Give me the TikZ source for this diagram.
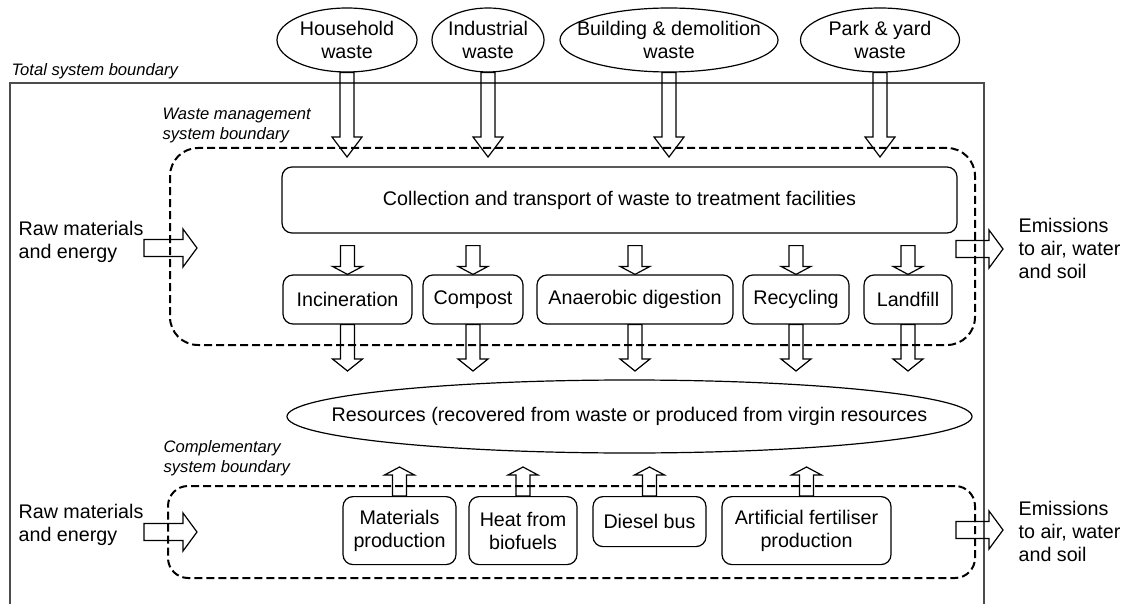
\documentclass[tikz,border=0pt]{standalone}
\usepackage{fontspec}
\setmainfont{Liberation Sans}
\usetikzlibrary{shapes.geometric,calc}

% hollow block arrows: from, to, head length
\newcommand{\fatdown}[3]{\draw[fat] let \p1=(#1), \p2=(#2) in
  (\x1-3.5pt,\y1) -- (\x1-3.5pt,\y2+#3) -- (\x1-7.5pt,\y2+#3) -- (\x1,\y2)
  -- (\x1+7.5pt,\y2+#3) -- (\x1+3.5pt,\y2+#3) -- (\x1+3.5pt,\y1) -- cycle;}
\newcommand{\fatup}[3]{\draw[fat] let \p1=(#1), \p2=(#2) in
  (\x1-3.5pt,\y1) -- (\x1-3.5pt,\y2-#3) -- (\x1-7.5pt,\y2-#3) -- (\x1,\y2)
  -- (\x1+7.5pt,\y2-#3) -- (\x1+3.5pt,\y2-#3) -- (\x1+3.5pt,\y1) -- cycle;}
\newcommand{\fatright}[3]{\draw[fat] let \p1=(#1), \p2=(#2) in
  (\x1,\y1-4.25pt) -- (\x2-#3,\y1-4.25pt) -- (\x2-#3,\y1-9.5pt) -- (\x2,\y1)
  -- (\x2-#3,\y1+9.5pt) -- (\x2-#3,\y1+4.25pt) -- (\x1,\y1+4.25pt) -- cycle;}

\tikzset{
  txt/.style={inner sep=0pt, align=left, font=\fontsize{9.85}{11.5}\selectfont},
  lbl/.style={inner sep=0pt, align=left, font=\fontsize{8.3}{10}\selectfont\itshape},
  src/.style={draw, ellipse, inner xsep=-40pt, inner ysep=-6pt, align=center,
    font=\fontsize{9.85}{11.5}\selectfont, minimum height=32pt},
  proc/.style={draw, rounded corners=5pt, inner sep=0pt, align=center,
    font=\fontsize{9.85}{11.5}\selectfont},
  bnd/.style={draw, dash pattern=on 4pt off 2pt, line width=1pt, inner sep=0pt},
  fat/.style={line join=miter},
}

\begin{document}
\begin{tikzpicture}[x=0.5pt, y=-0.5pt, line width=0.6pt]
  \useasboundingbox (0,0) rectangle (1123,604);

  % total system boundary
  \draw[black!70] (10,604) |- (984,83) -- (984,604);
  \node[lbl, anchor=base west] (tlbl) at (11,76) {Total system boundary};

  % waste sources
  \node[src, minimum width=70pt] (hh) at (347,40) {Household\\waste};
  \node[src, minimum width=56pt] (ind) at (488,40) {Industrial\\waste};
  \node[src, minimum width=109pt] (bd) at (669,40) {Building \& demolition\\waste};
  \node[src, minimum width=79.5pt] (pk) at (880,40) {Park \& yard\\waste};

  % waste management system
  \node[bnd, rounded corners=14pt, minimum width=402.5pt, minimum height=98.5pt] (wm) at (572.5,246.5) {};
  \node[lbl, anchor=south west] (wmlbl) at (162,144) {Waste management\\system boundary};
  \node[proc, minimum width=337.5pt, minimum height=33pt] (coll) at (619.5,200)
    {Collection and transport of waste to treatment facilities};

  \node[proc, minimum width=64.5pt, minimum height=24.5pt] (inc) at (347.5,299.5) {Incineration};
  \node[proc, minimum width=50pt, minimum height=24.5pt] (comp) at (473,299.5) {Compost};
  \node[proc, minimum width=98pt, minimum height=24.5pt] (ad) at (635,299.5) {Anaerobic digestion};
  \node[proc, minimum width=53pt, minimum height=24.5pt] (rec) at (796,299.5) {Recycling};
  \node[proc, minimum width=44pt, minimum height=24.5pt] (lf) at (908,299.5) {Landfill};

  % resources
  \node[src, minimum width=342.5pt, minimum height=36.5pt] (res) at (629.5,416.5)
    {Resources (recovered from waste or produced from virgin resources};

  % complementary system
  \node[bnd, rounded corners=10pt, minimum width=403.5pt, minimum height=46pt] (cs) at (571.5,532) {};
  \node[lbl, anchor=south west] (cslbl) at (163,477) {Complementary\\system boundary};
  \node[proc, anchor=north, minimum width=56.5pt, minimum height=34pt] (mat) at (399.5,496) {Materials\\production};
  \node[proc, anchor=north, minimum width=54pt, minimum height=34pt] (heat) at (523,496) {Heat from\\biofuels};
  \node[proc, anchor=north, minimum width=56.5pt, minimum height=25pt] (bus) at (649.5,496) {Diesel bus};
  \node[proc, anchor=north, minimum width=84.5pt, minimum height=34pt] (fert) at (806.5,496) {Artificial fertiliser\\production};

  % inputs and outputs
  \node[txt, anchor=west] (rawu) at (18,242) {Raw materials\\and energy};
  \node[txt, anchor=west] (rawl) at (18,525) {Raw materials\\and energy};
  \node[txt, anchor=west] (emu) at (1018,248) {Emissions\\to air, water\\and soil};
  \node[txt, anchor=west] (eml) at (1018,531) {Emissions\\to air, water\\and soil};

  \coordinate (wtop) at (0,157);
  \coordinate (rtop) at (0,371);
  \coordinate (utop) at (0,467);
  \coordinate (rawua) at (197,248);
  \coordinate (rawla) at (197,532);
  \coordinate (emsu) at (956,249);
  \coordinate (emsl) at (956,530);

  \foreach \src in {hh,ind,bd,pk}
    \fatdown{\src.south}{\src.south |- wtop}{10pt};
  \foreach \pr in {inc,comp,ad,rec,lf} {
    \fatdown{$(\pr.north |- coll.south)+(0,12)$}{\pr.north}{4pt};
    \fatdown{\pr.south}{\pr.south |- rtop}{6pt};
  }
  \foreach \cp in {mat,heat,bus,fert}
    \fatup{\cp.north}{\cp.north |- utop}{4pt};

  \fatright{rawu.east |- rawua}{rawua}{7pt};
  \fatright{rawl.east |- rawla}{rawla}{7pt};
  \fatright{emsu}{$(emu.west |- emsu)+(-15,0)$}{7pt};
  \fatright{emsl}{$(eml.west |- emsl)+(-15,0)$}{7pt};
\end{tikzpicture}
\end{document}
